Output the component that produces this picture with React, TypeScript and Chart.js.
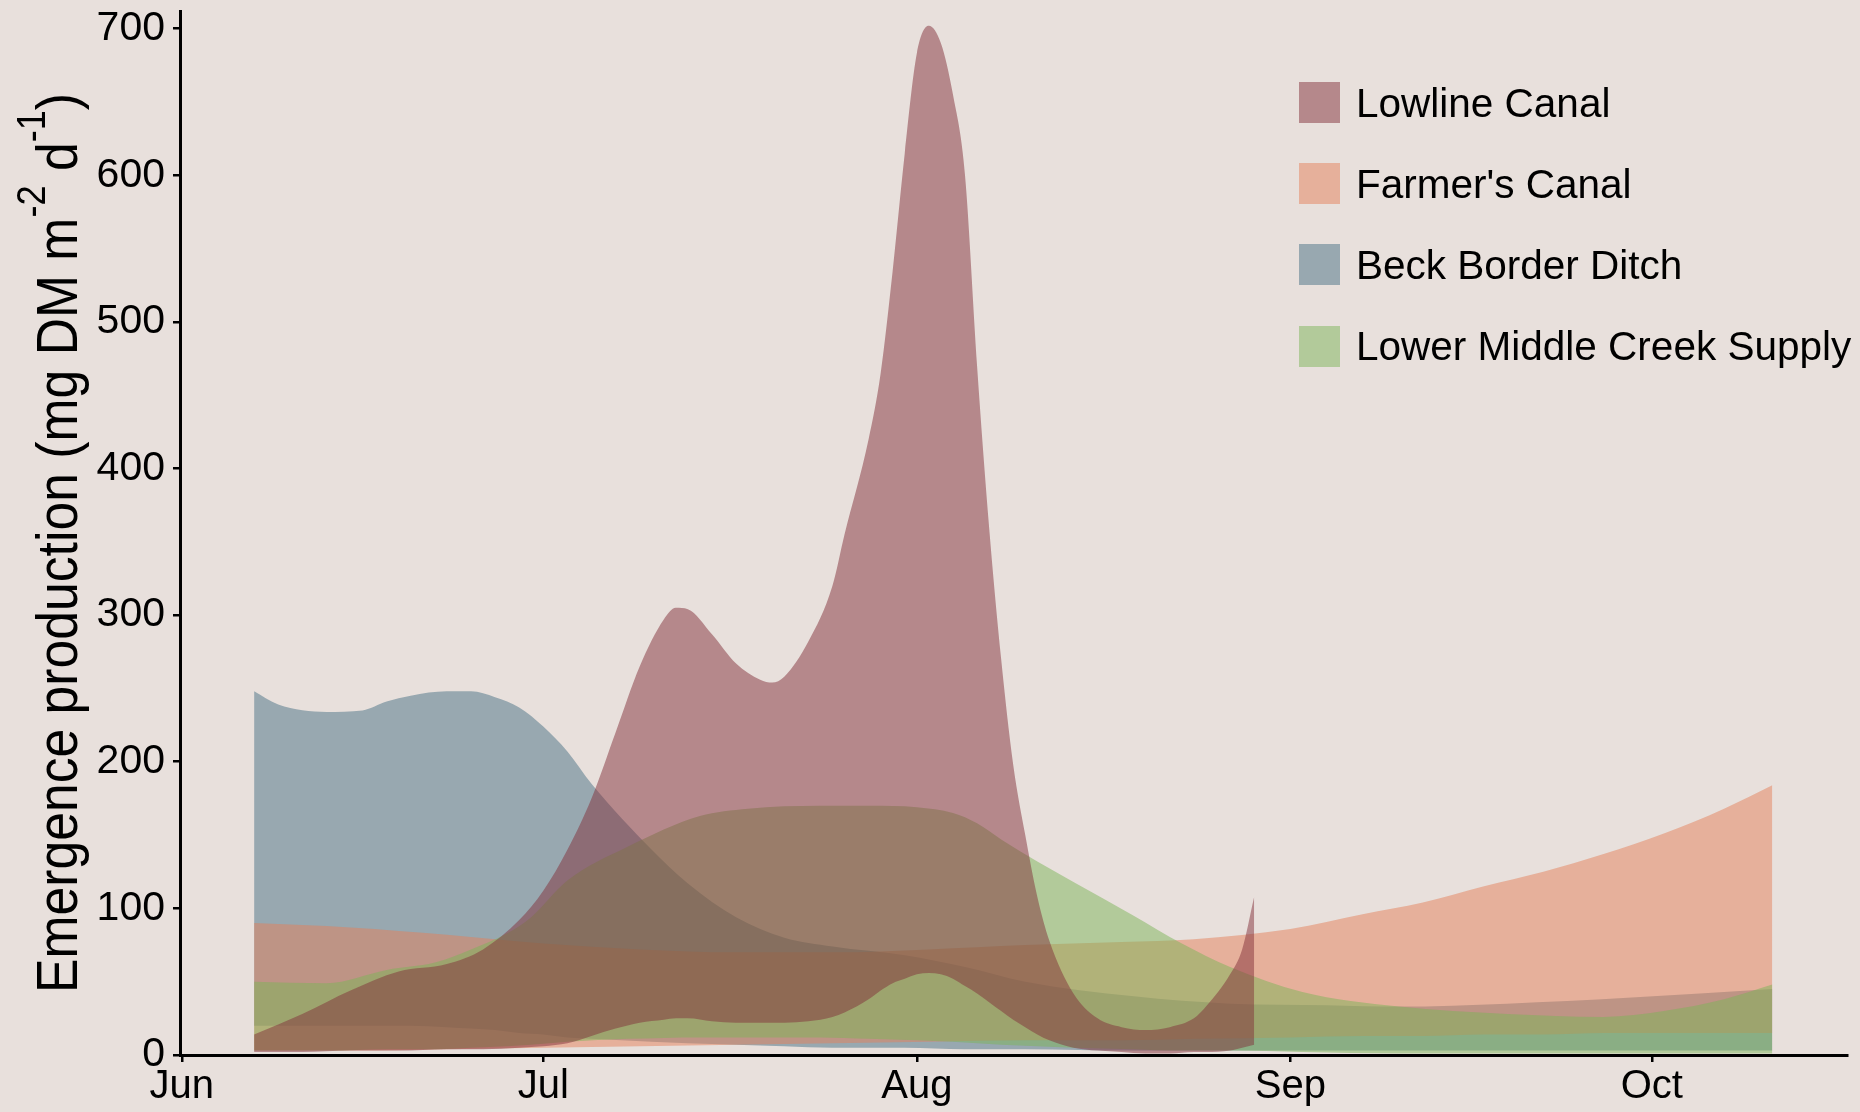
import React, { useEffect, useRef } from "react";
import { Chart, registerables } from "chart.js";

Chart.register(...registerables);

const FONT = '"Liberation Sans", Arial, Helvetica, sans-serif';
const BG = "#e8e0dc";

// x axis: days since 1 June
const monthTickDays = [0, 30, 61, 92, 122];
const monthTickLabels = ["Jun", "Jul", "Aug", "Sep", "Oct"];
const yTickValues = [0, 100, 200, 300, 400, 500, 600, 700];
const yTitleParts = ["Emergence production (mg DM m", "-2", " d", "-1", ")"];
const yTitleSuper = [false, true, false, true, false];

const seriesLabels = ["Lowline Canal", "Farmer's Canal", "Beck Border Ditch", "Lower Middle Creek Supply"];
const seriesRgb = ["130,48,58", "228,128,90", "72,112,132", "124,180,88"];
const seriesDrawOrder = [0, 2, 3, 1]; // lower = drawn on top

// Lowline Canal ribbon
const lowlineDays = [6, 10, 14, 18, 22, 25, 28, 30, 32, 34, 36, 38, 40, 41, 42, 44, 46, 48, 49, 50, 52, 54, 55, 57, 58, 59, 60, 61, 62, 63, 64, 65, 66, 67, 68, 69, 70, 71, 72, 74, 76, 78, 80, 82, 84, 85, 87, 88, 89];
const lowlineUpper = [14, 28, 44, 57, 62, 72, 92, 112, 140, 175, 220, 265, 297, 305, 304, 287, 267, 256, 254, 258, 282, 320, 355, 420, 465, 535, 615, 683, 702, 690, 655, 600, 470, 360, 270, 198, 150, 108, 78, 42, 25, 19, 17, 19, 25, 33, 55, 72, 108];
const lowlineLower = [2, 2, 3, 3, 4, 4, 5, 6, 8, 13, 18, 22, 24, 25, 25, 23, 22, 22, 22, 22, 23, 26, 29, 38, 44, 49, 52, 55, 56, 55, 52, 47, 42, 36, 30, 24, 19, 14, 10, 5, 3, 2, 1, 1, 2, 2, 3, 5, 7];

// Farmer's Canal ribbon
const farmersDays = [6, 14, 22, 30, 38, 46, 54, 62, 70, 78, 84, 92, 98, 103, 108, 113, 118, 123, 128, 132];
const farmersUpper = [90, 87, 82, 76, 72, 70, 70, 72, 75, 77, 79, 86, 96, 104, 115, 125, 137, 151, 168, 184];
const farmersLower = [3, 3, 4, 5, 6, 7, 8, 9, 10, 10, 11, 12, 13, 13, 14, 14, 15, 15, 15, 15];

// Beck Border Ditch ribbon
const beckDays = [6, 8, 12, 15, 17, 19, 22, 24, 26, 28, 30, 32, 34, 39, 42, 46, 50, 54, 60, 65, 70, 79, 87, 95, 101, 110, 120, 132];
const beckUpper = [248, 239, 234, 235, 241, 245, 248, 248, 244, 237, 224, 207, 185, 140, 117, 94, 80, 74, 68, 60, 50, 40, 35, 34, 33, 35, 39, 45];
const beckLower = [20, 20, 20, 20, 20, 20, 19, 18, 17, 15, 14, 12, 11, 9, 8, 7, 6, 5, 5, 4, 4, 3, 3, 3, 3, 3, 3, 3];

// Lower Middle Creek Supply ribbon
const lmcsDays = [6, 12, 17, 21, 24, 27, 29, 32, 37, 43, 47, 53, 57, 61, 64, 66, 68, 71, 74, 79, 83, 87, 93, 101, 110, 118, 123, 128, 132];
const lmcsUpper = [50, 49, 58, 63, 72, 83, 94, 119, 142, 163, 168, 170, 170, 169, 165, 158, 147, 132, 118, 95, 76, 60, 43, 33, 28, 26, 30, 38, 48];
const lmcsLower = [3, 3, 4, 4, 5, 6, 7, 9, 11, 12, 12, 12, 11, 10, 9, 8, 7, 6, 5, 4, 3, 3, 2, 1, 1, 1, 1, 1, 1];

const seriesDays = [lowlineDays, farmersDays, beckDays, lmcsDays];
const seriesUpper = [lowlineUpper, farmersUpper, beckUpper, lmcsUpper];
const seriesLower = [lowlineLower, farmersLower, beckLower, lmcsLower];

const bgPlugin = {
  id: "bgFill",
  beforeDraw(chart: any) {
    const ctx = chart.ctx;
    ctx.save();
    ctx.fillStyle = BG;
    ctx.fillRect(0, 0, chart.width, chart.height);
    ctx.restore();
  },
};

const yTitlePlugin = {
  id: "yTitleCustom",
  afterDraw(chart: any) {
    const ctx = chart.ctx;
    const F = 58;
    const supF = F * 0.7;
    ctx.save();
    const widths = yTitleParts.map((t, i) => {
      ctx.font = `${yTitleSuper[i] ? supF : F}px ${FONT}`;
      return ctx.measureText(t).width;
    });
    const total = widths.reduce((a, b) => a + b, 0);
    const target = 900;
    const sx = target / total;
    const cy = (chart.chartArea.top + chart.chartArea.bottom) / 2 + 10;
    ctx.translate(77, cy + target / 2);
    ctx.rotate(-Math.PI / 2);
    ctx.scale(sx, 1);
    ctx.fillStyle = "#000";
    ctx.textBaseline = "alphabetic";
    ctx.textAlign = "left";
    let x = 0;
    yTitleParts.forEach((t, i) => {
      ctx.font = `${yTitleSuper[i] ? supF : F}px ${FONT}`;
      ctx.fillText(t, x, yTitleSuper[i] ? -F * 0.55 : 0);
      x += widths[i];
    });
    ctx.restore();
  },
};

export default function App() {
  const ref = useRef<HTMLCanvasElement>(null);

  useEffect(() => {
    document.body.style.margin = "0";
    document.body.style.background = BG;
    const datasets: any[] = [];
    seriesLabels.forEach((label, s) => {
      const days = seriesDays[s];
      datasets.push({
        label: label + " (lower)",
        data: days.map((d, i) => ({ x: d, y: seriesLower[s][i] })),
        fill: false,
        borderWidth: 0,
        borderColor: "rgba(0,0,0,0)",
        pointRadius: 0,
        cubicInterpolationMode: "monotone",
        order: seriesDrawOrder[s],
      });
      datasets.push({
        label,
        data: days.map((d, i) => ({ x: d, y: seriesUpper[s][i] })),
        fill: "-1",
        backgroundColor: `rgba(${seriesRgb[s]},0.5)`,
        borderWidth: 0,
        borderColor: "rgba(0,0,0,0)",
        pointRadius: 0,
        cubicInterpolationMode: "monotone",
        order: seriesDrawOrder[s],
      });
    });

    const axisGrid = {
      drawOnChartArea: false,
      drawTicks: true,
      tickLength: 7,
      color: "#000",
      lineWidth: 2.5,
    };
    const axisBorder = { display: true, color: "#000", width: 3 };

    const chart = new Chart(ref.current as HTMLCanvasElement, {
      type: "line",
      data: { datasets },
      options: {
        animation: false,
        responsive: false,
        devicePixelRatio: 1,
        layout: { padding: { top: 11, right: 13, left: 0, bottom: 0 } },
        plugins: { legend: { display: false }, tooltip: { enabled: false } },
        elements: { point: { radius: 0 }, line: { borderWidth: 0 } },
        scales: {
          x: {
            type: "linear",
            min: -0.15,
            max: 138.2,
            afterBuildTicks: (s: any) => {
              s.ticks = monthTickDays.map((v) => ({ value: v }));
            },
            afterFit: (s: any) => {
              s.height = 57;
              s.paddingLeft = 0;
              s.paddingRight = 0;
            },
            ticks: {
              autoSkip: false,
              maxRotation: 0,
              color: "#000",
              padding: 1,
              font: { family: FONT, size: 40 },
              callback: (v: any) => monthTickLabels[monthTickDays.indexOf(Number(v))] ?? "",
            },
            grid: axisGrid,
            border: axisBorder,
          },
          y: {
            type: "linear",
            min: 0,
            max: 712,
            afterBuildTicks: (s: any) => {
              s.ticks = yTickValues.map((v) => ({ value: v }));
            },
            afterFit: (s: any) => {
              s.width = 180;
              s.paddingTop = 0;
              s.paddingBottom = 0;
            },
            ticks: {
              color: "#000",
              padding: 8,
              font: { family: FONT, size: 41 },
              callback: (v: any) => String(v),
            },
            grid: axisGrid,
            border: axisBorder,
          },
        },
      } as any,
      plugins: [bgPlugin, yTitlePlugin],
    });
    return () => chart.destroy();
  }, []);

  return (
    <div style={{ position: "relative", width: 1860, height: 1112, background: BG }}>
      <canvas ref={ref} width={1860} height={1112} style={{ display: "block", width: 1860, height: 1112 }} />
      <div style={{ position: "absolute", left: 1299, top: 62, fontFamily: FONT }}>
        {seriesLabels.map((label, i) => (
          <div key={label} style={{ height: 81.2, display: "flex", alignItems: "center" }}>
            <div style={{ width: 41, height: 41, background: `rgba(${seriesRgb[i]},0.5)` }} />
            <span
              style={{
                marginLeft: 16,
                fontSize: 40.5,
                lineHeight: "44px",
                color: "#000",
                whiteSpace: "nowrap",
                display: "inline-block",
              }}
            >
              {label}
            </span>
          </div>
        ))}
      </div>
    </div>
  );
}
